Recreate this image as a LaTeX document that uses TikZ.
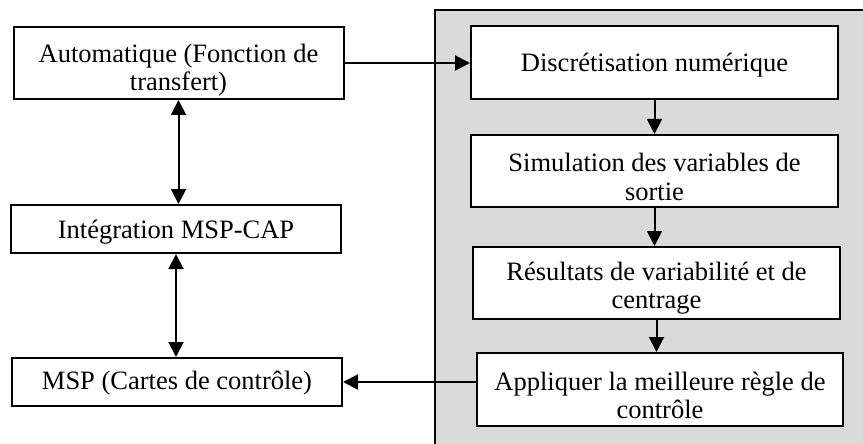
\documentclass[tikz,border=0pt]{standalone}
\usepackage{fontspec}
\setmainfont{Liberation Serif}
\usetikzlibrary{arrows.meta}

\definecolor{panelgray}{RGB}{218,218,218}

\tikzset{
    stepbox/.style={draw,line width=2pt,fill=white,inner sep=0pt},
    steptext/.style={align=center,inner sep=0pt,yshift=-#1,
        font=\fontsize{26.5pt}{28.5pt}\selectfont},
    steptext/.default=6pt,
    flow/.style={line width=2pt,-{Triangle[length=15pt,width=15pt]}},
    twoway/.style={line width=2pt,{Triangle[length=15pt,width=15pt]}-{Triangle[length=15pt,width=15pt]}}
}

\begin{document}
\begin{tikzpicture}[x=1pt,y=-1pt]
    \pgfmathsetmacro{\leftwidth}{330}
    \pgfmathsetmacro{\rightwidth}{367}
    \useasboundingbox (0,0) rectangle (863,444);
    % grey panel, runs off the page on the right and at the bottom
    \draw[line width=2pt,fill=panelgray] (435,10) rectangle (880,460);
    % left column
    \node[stepbox,minimum width=\leftwidth,minimum height=72,
        label={[steptext=7pt]center:Automatique (Fonction de\\transfert)}] (auto) at (178.5,63) {};
    \node[stepbox,minimum width=\leftwidth,minimum height=48,
        label={[steptext=3pt]center:Intégration MSP-CAP}] (integ) at (176,229) {};
    \node[stepbox,minimum width=\leftwidth,minimum height=48,
        label={[steptext=1pt]center:MSP (Cartes de contrôle)}] (msp) at (177,382) {};
    % right column
    \node[stepbox,minimum width=\rightwidth,minimum height=73,
        label={[steptext=3pt]center:Discrétisation numérique}] (disc) at (654.5,62.5) {};
    \node[stepbox,minimum width=\rightwidth,minimum height=72,
        label={[steptext]center:Simulation des variables de\\sortie}] (simu) at (654.5,171) {};
    \node[stepbox,minimum width=\rightwidth,minimum height=72,
        label={[steptext=5pt]center:Résultats de variabilité et de\\centrage}] (resu) at (656.5,283) {};
    \node[stepbox,minimum width=366,minimum height=73,
        label={[steptext]center:Appliquer la meilleure règle de\\contrôle}] (appl) at (660,389.5) {};
    % connectors
    \draw[flow] (auto.east) -- (auto.east -| disc.west);
    \draw[flow] (disc.south) -- (simu.north);
    \draw[flow] (simu.south) -- (simu.south |- resu.north);
    \draw[flow] (resu.south) -- (resu.south |- appl.north);
    \draw[flow] (msp.east -| appl.west) -- (msp.east);
    \draw[twoway] (auto.south) -- (auto.south |- integ.north);
    \draw[twoway] (integ.south) -- (integ.south |- msp.north);
\end{tikzpicture}
\end{document}
